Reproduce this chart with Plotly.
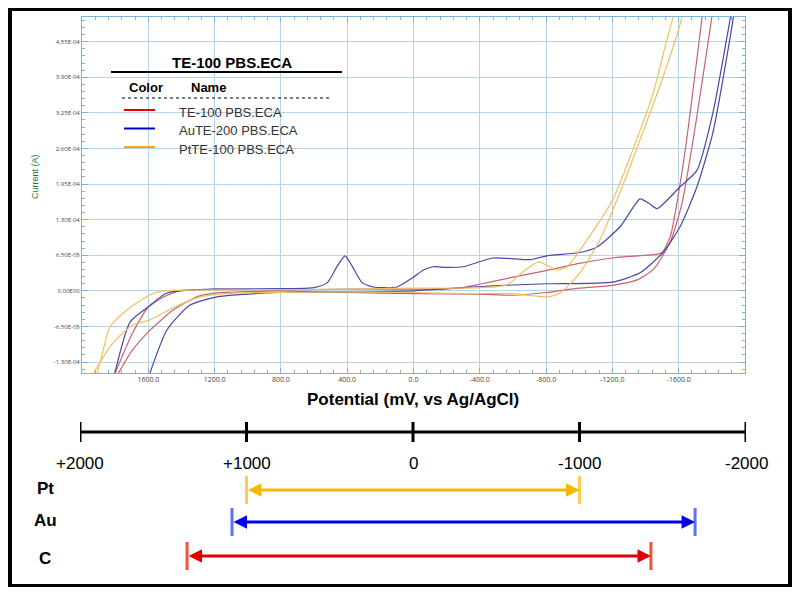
import plotly.graph_objects as go

# ---- CV data (potential in mV, current in 1e-5 A) ----
te_mv = [1780, 1700, 1600, 1450, 1300, 1200, 800, 400, 0, -400, -600, -800, -1000, -1200, -1350, -1450,
         -1550, -1620, -1700, -1800, -1830, None,
         -1760, -1741, -1700, -1650, -1600, -1550, -1500, -1450, -1300, -1200, -1000, -800, -600, -400,
         -300, -200, 0, 400, 800, 1200, 1400, 1500, 1600, 1700, 1800]
te_cur = [-15, -11, -7.5, -3.5, -1, -0.4, 0, -0.3, -0.5, -0.6, -0.8, -0.3, 0.5, 1, 2, 4,
          9, 16, 30, 50, 56, None,
          56, 50, 40, 28, 18, 10, 7, 6.6, 6.3, 6, 5, 3.7, 2.5, 1.2,
          0.6, 0.4, 0.3, 0.3, 0.2, 0.3, 0.1, -1, -3, -8, -15]

au_mv = [1810, 1710, 1608, 1487, 1200, 800, 600, 520, 460, 413, 370, 310, 244, 100, 0, -60, -118, -200,
         -299, -480, -703, -805, -1004, -1107, -1246, -1320, -1367, -1420, -1469, -1608, -1710, -1807,
         -1910, -1940, None,
         -1950, -1928, -1807, -1710, -1608, -1505, -1367, -1200, -805, -480, 0, 400, 800, 1185, 1348,
         1487, 1590, 1610]
au_cur = [-16, -5.7, -3.1, -0.4, 0.3, 0.4, 0.6, 1.5, 4.5, 6.4, 4.5, 1.5, 0.7, 0.7, 2.5, 3.8, 4.4, 4.3,
          4.4, 6, 5.7, 6.4, 7, 8, 11.7, 15, 16.8, 16, 15, 19, 22, 32.6,
          49.6, 55, None,
          55, 49.6, 29, 19, 11.7, 7, 3.3, 1.6, 1.3, 0.9, 0, -0.2, -0.3, -1.1, -2.6,
          -7.1, -15, -17]

pt_mv = [1960, 1910, 1831, 1729, 1590, 1511, 1000, 400, 0, -300, -564, -661, -752, -810, -866, -926,
         -1047, -1203, -1324, -1445, -1530, -1566, -1580, None,
         -1640, -1620, -1505, -1367, -1246, -1125, -1004, -884, -805, -600, -300, 0, 400, 800, 1089,
         1288, 1451, 1590, 1692, 1813, 1930]
pt_cur = [-17, -15, -6.6, -3.5, -0.7, 0, 0.2, 0.3, 0.5, 0.5, 1.1, 3.5, 5.3, 4.6, 3.8, 4.4,
          9.3, 16.7, 25.8, 36, 46, 50, 53, None,
          54, 50, 39, 27.6, 18, 9.3, 3.3, -0.4, -1.1, -0.5, -0.5, -0.3, -0.2, -0.3, -0.4,
          -1.1, -3.1, -5.3, -6.2, -9.5, -15]

y_ticks = [-1.3e-4, -6.5e-5, 0, 6.5e-5, 1.3e-4, 1.95e-4, 2.6e-4, 3.25e-4, 3.9e-4, 4.55e-4]
y_ticktext = ["-1.30E-04", "-6.50E-05", "0.00E00", "6.50E-05", "1.30E-04", "1.95E-04",
              "2.60E-04", "3.25E-04", "3.90E-04", "4.55E-04"]
x_ticks = [1600, 1200, 800, 400, 0, -400, -800, -1200, -1600]

# ---- window scale diagram ----
scale_ticks = [2000, 1000, 0, -1000, -2000]
scale_labels = ["+2000", "+1000", "0", "-1000", "-2000"]
windows = ["Pt", "Au", "C"]
win_start = [1000, 1087, 1357]
win_end = [-1000, -1694, -1429]
win_colors = ["#f5b800", "#0000e0", "#e00000"]
win_row = [90, 58, 24]

W, H, OFF = 784, 579, 8  # page body margin offsets the figure by 8px


def px(x):
    return (x - OFF) / W


def py(y):
    return 1 - (y - OFF) / H


def amps(vals):
    return [None if v is None else v * 1e-5 for v in vals]


fig = go.Figure()
fig.add_trace(go.Scatter(x=te_mv, y=amps(te_cur), mode="lines", line=dict(color="#c8646e", width=1.2, shape="spline", smoothing=0.6)))
fig.add_trace(go.Scatter(x=au_mv, y=amps(au_cur), mode="lines", line=dict(color="#4848a8", width=1.2, shape="spline", smoothing=0.6)))
fig.add_trace(go.Scatter(x=pt_mv, y=amps(pt_cur), mode="lines", line=dict(color="#f0c060", width=1.2, shape="spline", smoothing=0.6)))

# scale axis line and ticks
fig.add_trace(go.Scatter(x=[2000, -2000], y=[148, 148], mode="lines", xaxis="x2", yaxis="y2",
                         line=dict(color="black", width=3)))
for t in scale_ticks:
    fig.add_trace(go.Scatter(x=[t, t], y=[138, 158], mode="lines", xaxis="x2", yaxis="y2",
                             line=dict(color="black", width=3)))

annotations = []
for t, lab in zip(scale_ticks, scale_labels):
    annotations.append(dict(x=t, y=117, xref="x2", yref="y2", text=lab, showarrow=False,
                            xanchor="center", yanchor="middle",
                            font=dict(size=17, color="black", family="Arial")))

for name, s, e, c, r in zip(windows, win_start, win_end, win_colors, win_row):
    fig.add_trace(go.Scatter(x=[s, e], y=[r, r], mode="markers", xaxis="x2", yaxis="y2",
                             marker=dict(symbol="line-ns-open", size=20, line=dict(color=c, width=3))))
    annotations.append(dict(x=e, y=r, ax=s, ay=r, xref="x2", yref="y2", axref="x2", ayref="y2",
                            text="", showarrow=True, arrowhead=2, arrowside="end+start",
                            arrowsize=0.9, arrowwidth=3, arrowcolor=c, standoff=0, startstandoff=0))
    annotations.append(dict(x=px(45), y=r + (2 if name != "C" else -2), xref="paper", yref="y2",
                            text="<b>%s</b>" % name, showarrow=False, xanchor="center", yanchor="middle",
                            font=dict(size=17, color="black", family="Arial")))


def note(x, y, text, size, color="black", anchor="center", angle=0):
    return dict(x=px(x), y=py(y), xref="paper", yref="paper", text=text, showarrow=False,
                xanchor=anchor, yanchor="middle", textangle=angle,
                font=dict(size=size, color=color, family="Arial"))


annotations += [
    note(232, 62, "<b>TE-100 PBS.ECA</b>", 15),
    note(127, 87, "<b>Color</b>", 13, anchor="left"),
    note(189, 87, "<b>Name</b>", 13, anchor="left"),
    note(35, 176, "Current (A)", 9, color="#1a7a1a", angle=-90),
    note(413, 399, "<b>Potential (mV, vs Ag/AgCl)</b>", 17),
]
leg_names = ["TE-100 PBS.ECA", "AuTE-200 PBS.ECA", "PtTE-100 PBS.ECA"]
leg_colors = ["#e00000", "#0000cc", "#ffa500"]
shapes = [
    dict(type="rect", xref="paper", yref="paper", x0=px(83), x1=px(418), y0=py(180), y1=py(18),
         fillcolor="white", line=dict(width=0), layer="between"),
    dict(type="line", xref="paper", yref="paper", x0=px(111), x1=px(342), y0=py(72), y1=py(72),
         line=dict(color="black", width=2)),
    dict(type="line", xref="paper", yref="paper", x0=px(122), x1=px(331), y0=py(98), y1=py(98),
         line=dict(color="black", width=1.2, dash="dot")),
    dict(type="rect", xref="paper", yref="paper", x0=px(10), x1=px(790), y0=py(586), y1=py(9),
         line=dict(color="black", width=4)),
]
for i, (n, c) in enumerate(zip(leg_names, leg_colors)):
    yy = 110 + i * 18.5
    shapes.append(dict(type="line", xref="paper", yref="paper", x0=px(124), x1=px(155), y0=py(yy), y1=py(yy),
                       line=dict(color=c, width=2)))
    annotations.append(note(177, yy + 2, n, 13, color="#333333", anchor="left"))

axis_blue = "#7fb2d8"
fig.update_layout(
    width=W, height=H, margin=dict(l=0, r=0, t=0, b=0),
    paper_bgcolor="white", plot_bgcolor="white", showlegend=False,
    xaxis=dict(domain=[px(82), px(745)], range=[2000, -2000], tickvals=x_ticks,
               ticktext=["%.1f" % v for v in x_ticks], tickfont=dict(size=7, color="#444"),
               showgrid=True, gridcolor="#b5d3ea", gridwidth=1, zeroline=False,
               showline=True, linecolor=axis_blue, mirror="ticks", ticks="inside", ticklen=5,
               tickcolor=axis_blue, minor=dict(ticks="inside", ticklen=3, tickcolor=axis_blue, dtick=80)),
    yaxis=dict(domain=[py(373), py(17)], range=[-1.5e-4, 5.0e-4], tickvals=y_ticks, ticktext=y_ticktext,
               tickfont=dict(size=6, color="#444"), showgrid=True, gridcolor="#b5d3ea", zeroline=False,
               showline=True, linecolor=axis_blue, mirror="ticks", ticks="inside", ticklen=6,
               tickcolor=axis_blue, minor=dict(ticks="inside", ticklen=3, tickcolor=axis_blue, dtick=1.3e-5)),
    xaxis2=dict(domain=[px(80), px(746)], range=[2000, -2000], anchor="y2", visible=False),
    yaxis2=dict(domain=[py(580), py(420)], range=[0, 160], anchor="x2", visible=False),
    annotations=annotations, shapes=shapes,
)

fig.write_html("out.html")
